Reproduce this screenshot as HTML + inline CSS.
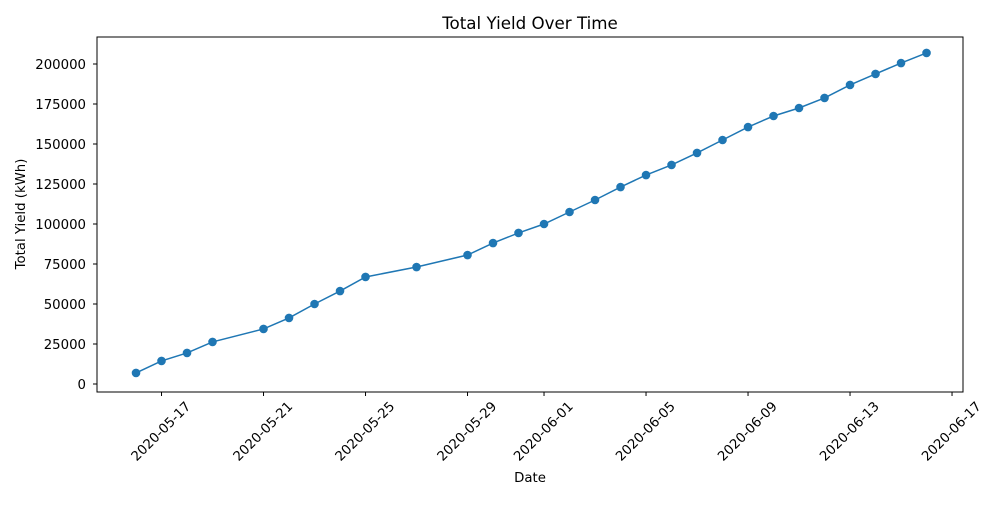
<!DOCTYPE html>
<html><head><meta charset="utf-8"><style>
body{margin:0;background:#fff;}
text{font-family:"DejaVu Sans","Liberation Sans",sans-serif;fill:#000;}
</style></head><body>
<svg id="chart" width="1000" height="500" xmlns="http://www.w3.org/2000/svg">
<rect width="1000" height="500" fill="#fff"/>
<text x="530" y="29" font-size="16.7" text-anchor="middle">Total Yield Over Time</text>
<text x="530" y="482" font-size="13.3" text-anchor="middle">Date</text>
<text transform="translate(25,214) rotate(-90)" font-size="13.3" text-anchor="middle">Total Yield (kWh)</text>
<g id="axes"></g>
<rect x="97" y="37" width="866" height="355" fill="none" stroke="#000" stroke-width="1"/>
</svg>
<script>
const dayOffsets=[0,1,2,3,5,6,7,8,9,11,13,14,15,16,17,18,19,20,21,22,23,24,25,26,27,28,29,30,31];
const yieldValues=[6900,14400,19400,26300,34400,41300,50000,58100,66900,73100,80600,88100,94400,100000,107500,115000,123100,130600,136900,144400,152500,160600,167500,172500,178800,186900,193800,200600,206900];
const yTicks=[0,25000,50000,75000,100000,125000,150000,175000,200000];
const xTickOffsets=[1,5,9,13,16,20,24,28,32];
const xTickLabels=["2020-05-17","2020-05-21","2020-05-25","2020-05-29","2020-06-01","2020-06-05","2020-06-09","2020-06-13","2020-06-17"];
const NS="http://www.w3.org/2000/svg";
const g=document.getElementById('axes');
const X0=97,X1=963,Y0=392,Y1=37;
const xMin=-1.53,xMax=32.43,yMin=-5000,yMax=216875;
function xs(d){return X0+(d-xMin)/(xMax-xMin)*(X1-X0);}
function ys(v){return Y0-(v-yMin)/(yMax-yMin)*(Y0-Y1);}
function mk(t,a){const e=document.createElementNS(NS,t);for(const k in a)e.setAttribute(k,a[k]);g.appendChild(e);return e;}
yTicks.forEach(v=>{
 const y=ys(v);
 const t=mk('line',{x1:X0-4,x2:X0,y1:y,y2:y,stroke:'#000'});
 
 
 const l=mk('text',{x:X0-11,y:y+5,'font-size':13.3,'text-anchor':'end'});
 l.textContent=v;
 
 
});
xTickOffsets.forEach((d,i)=>{
 const x=xs(d);
 const t=mk('line',{x1:x,x2:x,y1:Y0,y2:Y0+4,stroke:'#000'});
 
 
 const l=mk('text',{transform:`translate(${x},${Y0+40}) rotate(-45)`,'font-size':13.3,'text-anchor':'middle','dominant-baseline':'central'});
 l.textContent=xTickLabels[i];
 
 
});
const pts=dayOffsets.map((d,i)=>xs(d)+','+ys(yieldValues[i])).join(' ');
const line=mk('polyline',{points:pts,fill:'none',stroke:'#1f77b4','stroke-width':1.5});


dayOffsets.forEach((d,i)=>{
 const c=mk('circle',{cx:xs(d),cy:ys(yieldValues[i]),r:4.3,fill:'#1f77b4'});
 
 
});
</script>
</body></html>
